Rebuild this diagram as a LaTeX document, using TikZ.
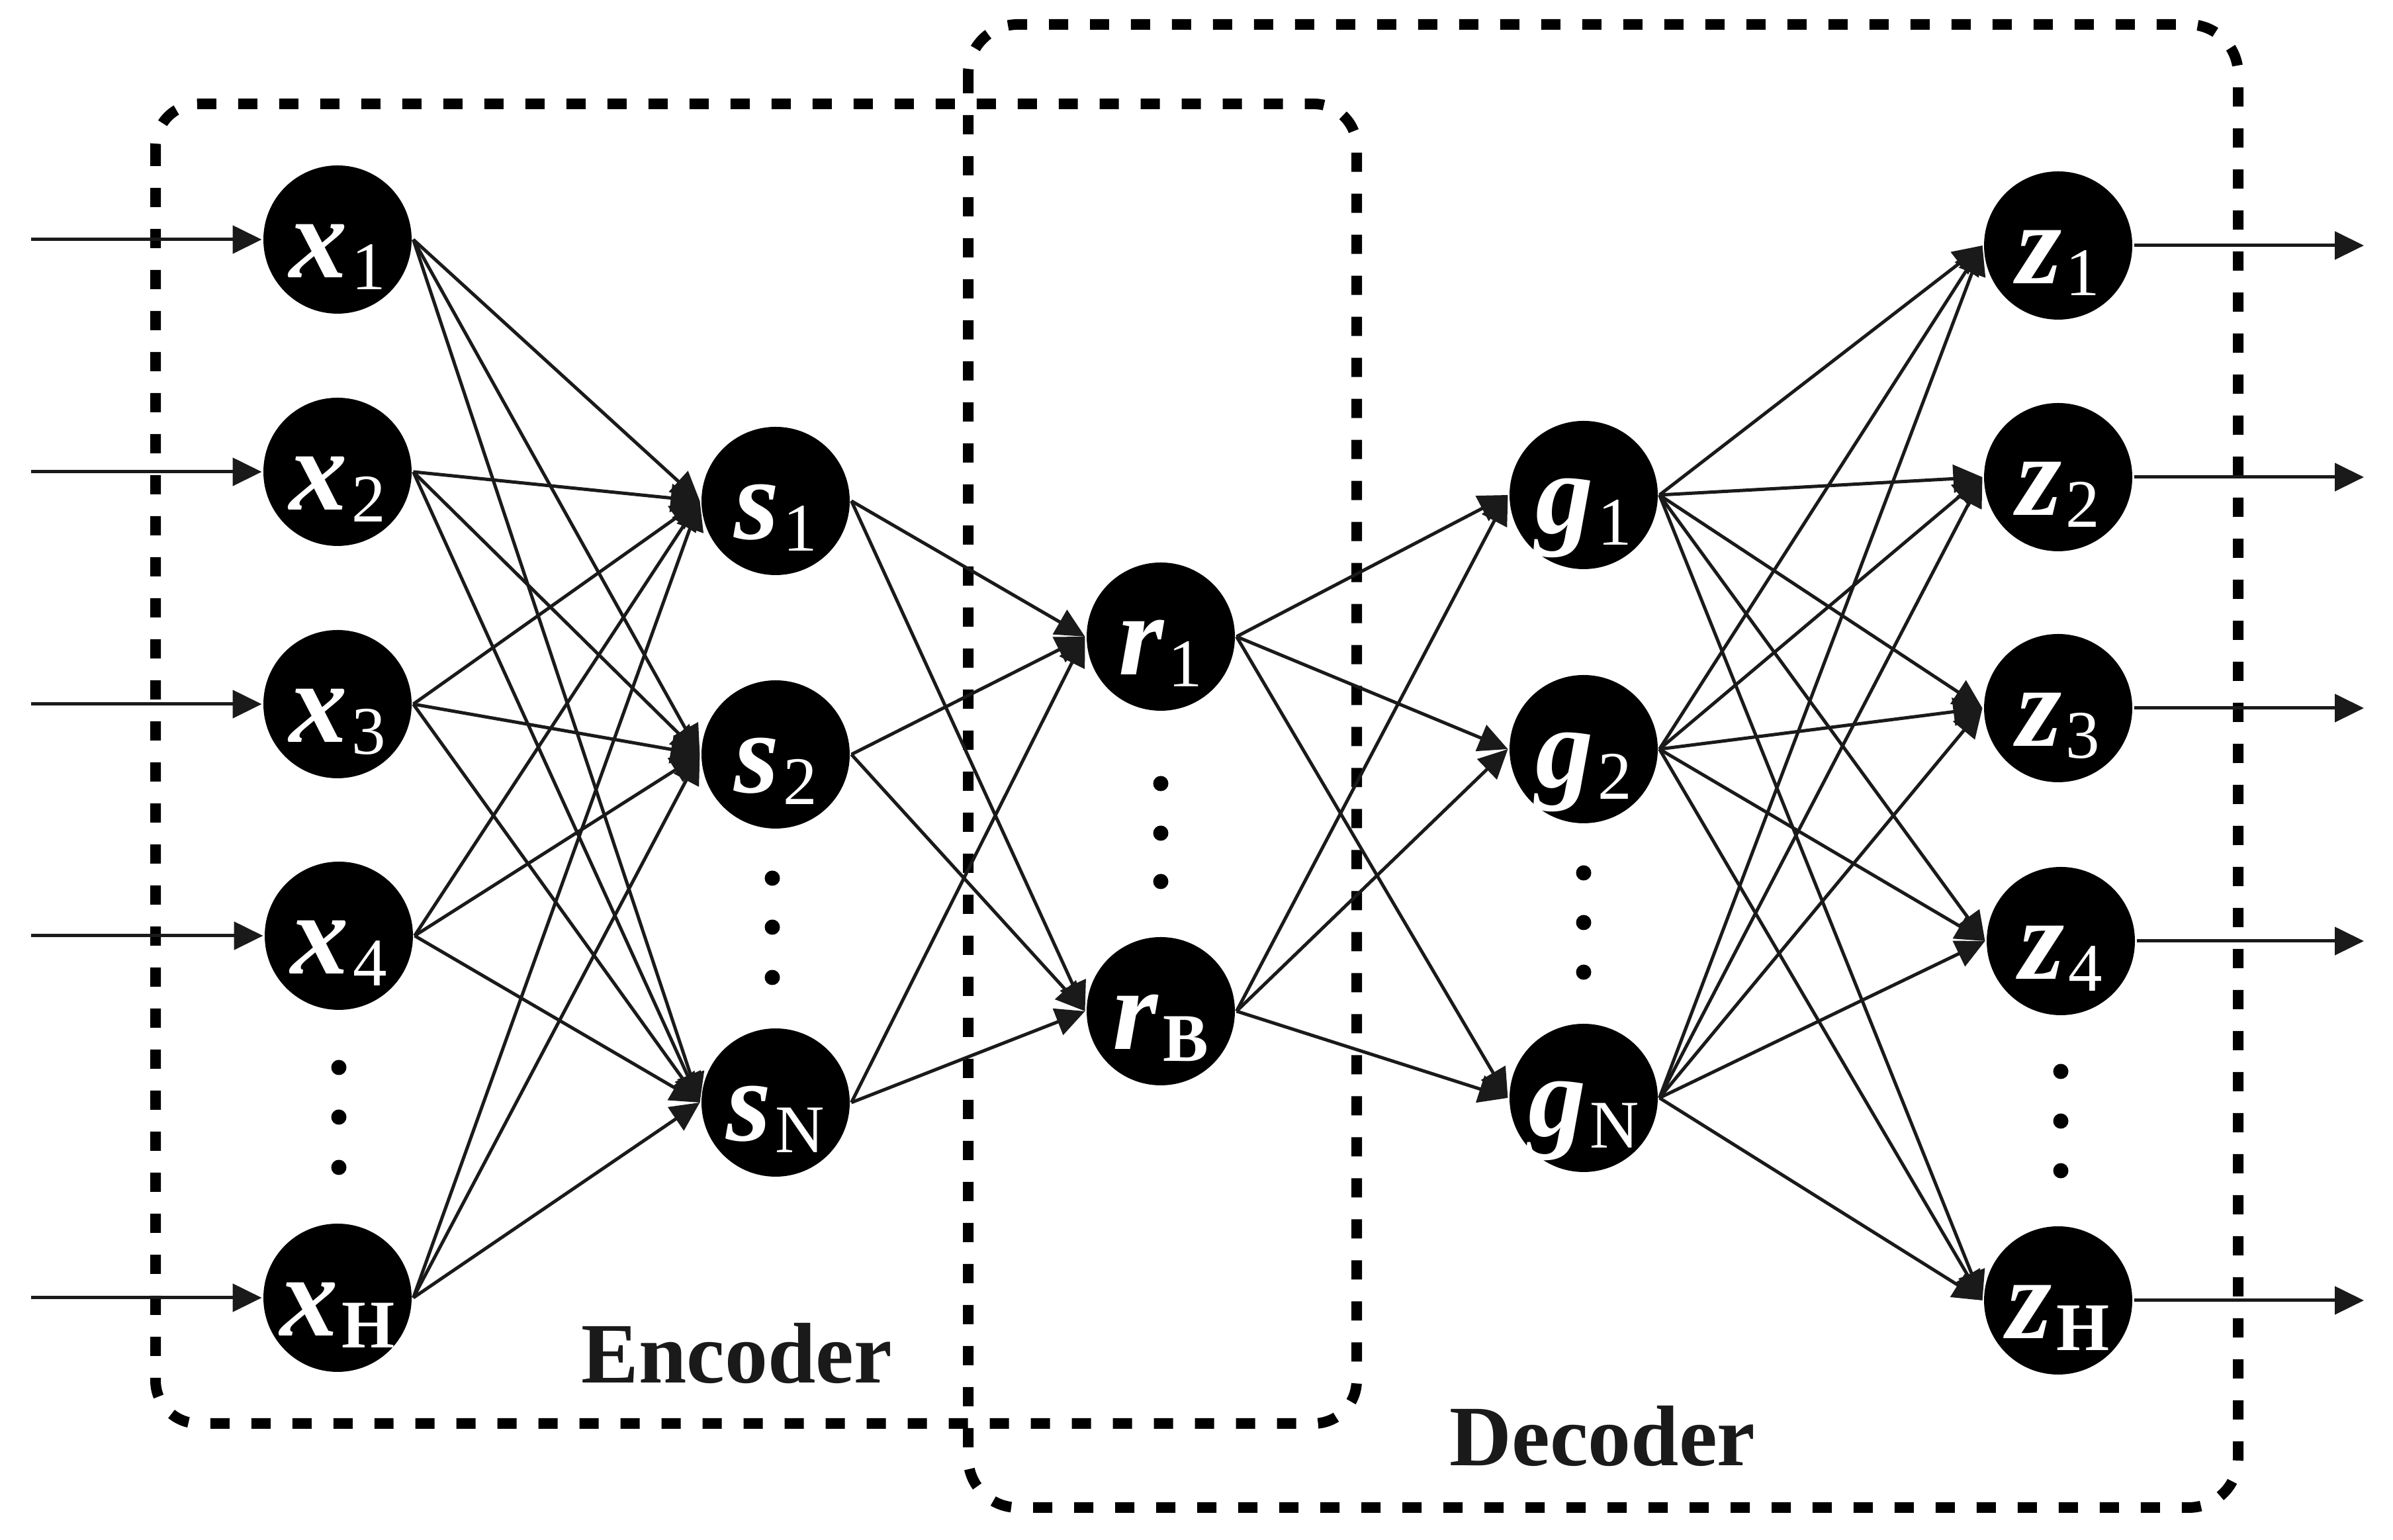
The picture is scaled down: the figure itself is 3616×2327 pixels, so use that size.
\documentclass[tikz,border=0pt]{standalone}
\usepackage{fontspec}
\setmainfont{Liberation Serif}
\usetikzlibrary{arrows.meta}
\definecolor{linegray}{RGB}{26,26,26}
\newcommand{\nlabel}[2]{\textbf{\textit{#1}}\kern0.6pt\raisebox{-1.8pt}{\fontsize{10.3}{10.3}\selectfont#2}}

\begin{document}
\begin{tikzpicture}[
    x=0.1pt,
    y=-0.1pt,
    ->,
    >={Triangle[length=4.4pt,width=4.2pt]},
    line width=0.5pt,
    color=linegray,
    neuron/.style={
        circle,
        fill=black,
        text=white,
        minimum size=22.4pt,
        inner sep=0pt,
        text height=11.6pt,
        text depth=0pt,
        font=\fontsize{17.5}{17.5}\selectfont,
    },
    block/.style={
        -,
        draw=black,
        line width=1.6pt,
        dash pattern=on 2.9pt off 3.3pt,
    },
    blocklabel/.style={
        anchor=base west,
        inner sep=0pt,
        text=linegray,
        font=\fontsize{13}{13}\selectfont\bfseries,
    },
]
    \useasboundingbox (0,0) rectangle (3616,2327);

    % dashed blocks
    \draw[block, rounded corners=6.5pt] (235,157) rectangle (2050,2151);
    \draw[block, rounded corners=7.5pt] (1463,37) rectangle (3382,2278);
    \node[blocklabel] (enc) at (876,2090) {Encoder};
    \node[blocklabel] (dec) at (2188,2215) {Decoder};

    % layers
    \begin{scope}[every node/.append style={neuron}]
        \node (x1) at (510,362)  {\nlabel{x}{1}};
        \node (x2) at (510,713)  {\nlabel{x}{2}};
        \node (x3) at (510,1064) {\nlabel{x}{3}};
        \node (x4) at (512,1414) {\nlabel{x}{4}};
        \node (xH) at (510,1961) {\nlabel{x}{\textbf{H}}};

        \node (s1) at (1172,757)  {\nlabel{s}{1}};
        \node (s2) at (1172,1140) {\nlabel{s}{2}};
        \node (sN) at (1172,1666) {\nlabel{s}{N}};

        \node (r1) at (1754,962)  {\nlabel{r}{1}};
        \node (rB) at (1754,1528) {\nlabel{r}{\textbf{B}}};

        \node (g1) at (2393,748)  {\nlabel{g}{1}};
        \node (g2) at (2393,1132) {\nlabel{g}{2}};
        \node (gN) at (2393,1659) {\nlabel{g}{N}};

        \node (z1) at (3110,371)  {\nlabel{z}{1}};
        \node (z2) at (3110,721)  {\nlabel{z}{2}};
        \node (z3) at (3110,1070) {\nlabel{z}{3}};
        \node (z4) at (3114,1422) {\nlabel{z}{4}};
        \node (zH) at (3110,1965) {\nlabel{z}{\textbf{H}}};
    \end{scope}

    % vertical dots
    \fill[-, black] (512,1613) circle[radius=1.15pt] (512,1688) circle[radius=1.15pt] (512,1764) circle[radius=1.15pt];
    \fill[-, black] (1167,1327) circle[radius=1.15pt] (1167,1401) circle[radius=1.15pt] (1167,1477) circle[radius=1.15pt];
    \fill[-, black] (1754,1184) circle[radius=1.15pt] (1754,1259) circle[radius=1.15pt] (1754,1332) circle[radius=1.15pt];
    \fill[-, black] (2393,1319) circle[radius=1.15pt] (2393,1394) circle[radius=1.15pt] (2393,1469) circle[radius=1.15pt];
    \fill[-, black] (3114,1619) circle[radius=1.15pt] (3114,1694) circle[radius=1.15pt] (3114,1769) circle[radius=1.15pt];

    % inputs and outputs
    \coordinate (in1) at (47,362);
    \coordinate (in2) at (47,713);
    \coordinate (in3) at (47,1064);
    \coordinate (in4) at (47,1414);
    \coordinate (inH) at (47,1961);
    \coordinate (out1) at (3572,371);
    \coordinate (out2) at (3572,721);
    \coordinate (out3) at (3572,1070);
    \coordinate (out4) at (3572,1422);
    \coordinate (outH) at (3572,1965);

    \path
    (in1) edge (x1.west)
    (in2) edge (x2.west)
    (in3) edge (x3.west)
    (in4) edge (x4.west)
    (inH) edge (xH.west)
    (z1.east) edge (out1)
    (z2.east) edge (out2)
    (z3.east) edge (out3)
    (z4.east) edge (out4)
    (zH.east) edge (outH);

    % encoder connections
    \path
    (x1.east) edge (s1.west) edge (s2.west) edge (sN.west)
    (x2.east) edge (s1.west) edge (s2.west) edge (sN.west)
    (x3.east) edge (s1.west) edge (s2.west) edge (sN.west)
    (x4.east) edge (s1.west) edge (s2.west) edge (sN.west)
    (xH.east) edge (s1.west) edge (s2.west) edge (sN.west)
    (s1.east) edge (r1.west) edge (rB.west)
    (s2.east) edge (r1.west) edge (rB.west)
    (sN.east) edge (r1.west) edge (rB.west);

    % decoder connections
    \path
    (r1.east) edge (g1.west) edge (g2.west) edge (gN.west)
    (rB.east) edge (g1.west) edge (g2.west) edge (gN.west)
    (g1.east) edge (z1.west) edge (z2.west) edge (z3.west) edge (z4.west) edge (zH.west)
    (g2.east) edge (z1.west) edge (z2.west) edge (z3.west) edge (z4.west) edge (zH.west)
    (gN.east) edge (z1.west) edge (z2.west) edge (z3.west) edge (z4.west) edge (zH.west);
\end{tikzpicture}
\end{document}
